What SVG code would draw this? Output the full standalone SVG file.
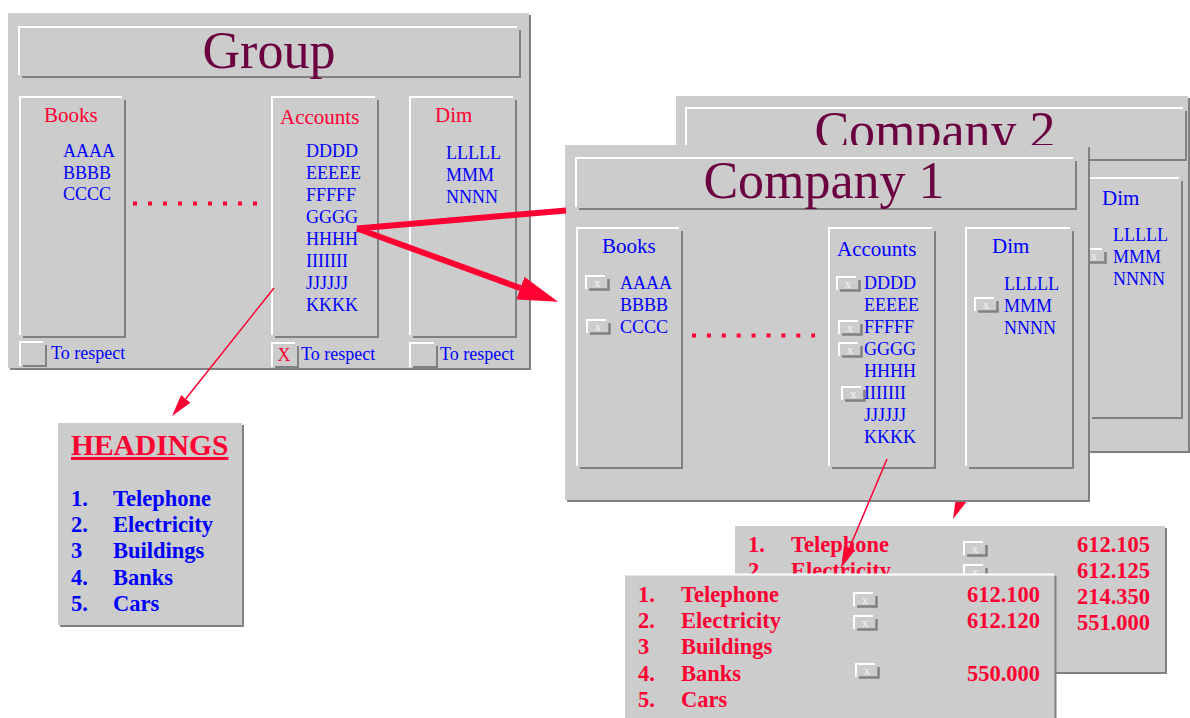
<svg xmlns="http://www.w3.org/2000/svg" xmlns:xlink="http://www.w3.org/1999/xlink" width="1190" height="718" viewBox="0 0 1190 718">
<style>
.bg{fill:#cccccc}
.hl{fill:none;stroke:#ffffff;stroke-width:2}
.sh{fill:none;stroke:#808080;stroke-width:2}
.cbs{fill:none;stroke:#808080;stroke-width:2.5}
.t{font-family:"Liberation Serif","Times New Roman",serif}
.red{fill:#ff0033}
.blue{fill:#0000ff}
.mar{fill:#6b0040}
.title{font-size:52px;text-anchor:middle}
.hd{font-size:21px}
.it{font-size:18px}
.tb{font-size:22.5px;font-weight:bold}
.num{text-anchor:end}
.xm{font-family:"Liberation Serif",serif;font-size:13px;fill:#f2f2f2;text-anchor:middle}
.dots{fill:none;stroke:#ff0033;stroke-width:4}
.thick{fill:none;stroke:#ff0033;stroke-width:6}
.thin{fill:none;stroke:#ff0033;stroke-width:1.5}
</style>
<defs>
<g id="cb">
<path class="hl" d="M1 14V1H20"/>
<path class="cbs" d="M4 14.5H23.5V4"/>
<text x="12" y="12" class="xm">x</text>
</g>
<marker id="bigHead" markerUnits="userSpaceOnUse" markerWidth="40" markerHeight="24" refX="0" refY="12" orient="auto">
<path d="M0 0L40 12L0 24Z" fill="#ff0033"/>
</marker>
<marker id="thinHead" markerUnits="userSpaceOnUse" markerWidth="22" markerHeight="12" refX="0" refY="6" orient="auto">
<path d="M0 0L22 6L0 12Z" fill="#ff0033"/>
</marker>
</defs>

<g id="group">
<rect class="bg" x="8" y="13" width="521" height="355"/>
<path class="sh" d="M10 369H530V15"/>
<path class="hl" d="M19 75V27H517"/><path class="sh" d="M22 77H520V30"/>
<text class="t title mar" x="269" y="68">Group</text>
<g id="group-books">
<path class="hl" d="M20 335V97H122"/><path class="sh" d="M23 337H125V100"/>
<text class="t hd red" x="44" y="122">Books</text>
<text class="t it blue" x="63" y="157">AAAA</text>
<text class="t it blue" x="63" y="179">BBBB</text>
<text class="t it blue" x="63" y="200">CCCC</text>
</g>
<g id="group-accounts">
<path class="hl" d="M272 335V97H375"/><path class="sh" d="M275 337H378V100"/>
<text class="t hd red" x="280" y="124">Accounts</text>
<text class="t it blue" x="306" y="157">DDDD</text>
<text class="t it blue" x="306" y="179">EEEEE</text>
<text class="t it blue" x="306" y="201">FFFFF</text>
<text class="t it blue" x="306" y="223">GGGG</text>
<text class="t it blue" x="306" y="245">HHHH</text>
<text class="t it blue" x="306" y="267">IIIIIII</text>
<text class="t it blue" x="306" y="289">JJJJJJ</text>
<text class="t it blue" x="306" y="311">KKKK</text>
</g>
<g id="group-dim">
<path class="hl" d="M410 335V97H513"/><path class="sh" d="M413 337H516V100"/>
<text class="t hd red" x="435" y="122">Dim</text>
<text class="t it blue" x="446" y="159">LLLLL</text>
<text class="t it blue" x="446" y="181">MMM</text>
<text class="t it blue" x="446" y="203">NNNN</text>
</g>
<g id="group-respect">
<path class="hl" d="M20 366V342H43"/><path class="sh" d="M23 366H46V345"/>
<text class="t it blue" x="51" y="359">To respect</text>
<path class="hl" d="M272 367V343H295"/><path class="sh" d="M275 367H298V346"/>
<text class="t it red" x="284" y="361" text-anchor="middle">X</text>
<text class="t it blue" x="301" y="360">To respect</text>
<path class="hl" d="M410 367V343H434"/><path class="sh" d="M413 367H437V346"/>
<text class="t it blue" x="440" y="360">To respect</text>
</g>
<path class="dots" d="M133 203.5H257" stroke-dasharray="4 11"/>
</g>

<g id="company2">
<rect class="bg" x="676" y="96" width="512" height="355"/>
<path class="sh" d="M678 452H1189V98"/>
<path class="hl" d="M686 158V108H1183"/><path class="sh" d="M689 160H1186V111"/>
<text class="t title mar" x="935" y="148">Company 2</text>
<path class="hl" d="M1089 416V178H1179"/><path class="sh" d="M1092 418H1182V181"/>
<text class="t hd blue" x="1102" y="205">Dim</text>
<text class="t it blue" x="1113" y="241">LLLLL</text>
<text class="t it blue" x="1113" y="263">MMM</text>
<text class="t it blue" x="1113" y="285">NNNN</text>
<use xlink:href="#cb" x="1082" y="248"/>
</g>

<g id="company2-table">
<rect class="bg" x="735" y="526" width="430" height="146"/>
<path class="sh" d="M737 673H1166V528"/>
<text class="t tb red" x="748" y="552">1.</text>
<text class="t tb red" x="791" y="552">Telephone</text>
<text class="t tb red num" x="1150" y="552">612.105</text>
<text class="t tb red" x="748" y="578">2.</text>
<text class="t tb red" x="791" y="578">Electricity</text>
<text class="t tb red num" x="1150" y="578">612.125</text>
<text class="t tb red num" x="1150" y="604">214.350</text>
<text class="t tb red num" x="1150" y="630">551.000</text>
<use xlink:href="#cb" x="963" y="541"/>
<use xlink:href="#cb" x="963" y="564"/>
</g>

<g id="connectors-back">
<path class="thin" d="M1000 408L961.6 498.7" marker-end="url(#thinHead)"/>
</g>

<g id="company1">
<rect class="bg" x="565" y="145" width="523" height="355"/>
<path class="sh" d="M567 501H1089V147"/>
<path class="hl" d="M576 207V158H1073"/><path class="sh" d="M579 209H1076V161"/>
<text class="t title mar" x="824" y="198">Company 1</text>
<g id="c1-books">
<path class="hl" d="M577 466V228H679"/><path class="sh" d="M580 468H682V231"/>
<text class="t hd blue" x="602" y="253">Books</text>
<use xlink:href="#cb" x="585" y="275"/>
<text class="t it blue" x="620" y="289">AAAA</text>
<text class="t it blue" x="620" y="311">BBBB</text>
<use xlink:href="#cb" x="586" y="319"/>
<text class="t it blue" x="620" y="333">CCCC</text>
</g>
<path class="dots" d="M692 335.5H815" stroke-dasharray="4 10.9"/>
<g id="c1-accounts">
<path class="hl" d="M829 466V228H932"/><path class="sh" d="M832 468H935V231"/>
<text class="t hd blue" x="837" y="256">Accounts</text>
<use xlink:href="#cb" x="836" y="276"/>
<text class="t it blue" x="864" y="289">DDDD</text>
<text class="t it blue" x="864" y="311">EEEEE</text>
<use xlink:href="#cb" x="838" y="320"/>
<text class="t it blue" x="864" y="333">FFFFF</text>
<use xlink:href="#cb" x="838" y="342"/>
<text class="t it blue" x="864" y="355">GGGG</text>
<text class="t it blue" x="864" y="377">HHHH</text>
<use xlink:href="#cb" x="841" y="386"/>
<text class="t it blue" x="864" y="399">IIIIIII</text>
<text class="t it blue" x="864" y="421">JJJJJJ</text>
<text class="t it blue" x="864" y="443">KKKK</text>
</g>
<g id="c1-dim">
<path class="hl" d="M966 466V228H1070"/><path class="sh" d="M969 468H1073V231"/>
<text class="t hd blue" x="992" y="253">Dim</text>
<text class="t it blue" x="1004" y="290">LLLLL</text>
<use xlink:href="#cb" x="974" y="297"/>
<text class="t it blue" x="1004" y="312">MMM</text>
<text class="t it blue" x="1004" y="334">NNNN</text>
</g>
</g>

<g id="company1-table">
<rect class="bg" x="625" y="574" width="430" height="144"/>
<path class="hl" d="M625 574.5H1054"/>
<path class="sh" d="M1055.5 576V718"/>
<text class="t tb red" x="638" y="602">1.</text>
<text class="t tb red" x="681" y="602">Telephone</text>
<text class="t tb red num" x="1040" y="602">612.100</text>
<text class="t tb red" x="638" y="628">2.</text>
<text class="t tb red" x="681" y="628">Electricity</text>
<text class="t tb red num" x="1040" y="628">612.120</text>
<text class="t tb red" x="638" y="654">3</text>
<text class="t tb red" x="681" y="654">Buildings</text>
<text class="t tb red" x="638" y="681">4.</text>
<text class="t tb red" x="681" y="681">Banks</text>
<text class="t tb red num" x="1040" y="681">550.000</text>
<text class="t tb red" x="638" y="707">5.</text>
<text class="t tb red" x="681" y="707">Cars</text>
<use xlink:href="#cb" x="853" y="592"/>
<use xlink:href="#cb" x="853" y="615"/>
<use xlink:href="#cb" x="855" y="663"/>
</g>

<g id="headings">
<rect class="bg" x="58" y="423" width="184" height="202"/>
<path class="sh" d="M60 626H243V425"/>
<text class="t red" x="71" y="455" font-size="29.5" font-weight="bold" text-decoration="underline">HEADINGS</text>
<text class="t tb blue" x="71" y="506">1.</text>
<text class="t tb blue" x="113" y="506">Telephone</text>
<text class="t tb blue" x="71" y="532">2.</text>
<text class="t tb blue" x="113" y="532">Electricity</text>
<text class="t tb blue" x="71" y="558">3</text>
<text class="t tb blue" x="113" y="558">Buildings</text>
<text class="t tb blue" x="71" y="585">4.</text>
<text class="t tb blue" x="113" y="585">Banks</text>
<text class="t tb blue" x="71" y="611">5.</text>
<text class="t tb blue" x="113" y="611">Cars</text>
</g>

<g id="connectors">
<path class="thick" d="M357 228.5L566 210.5"/>
<path class="thick" d="M357 228.5L520.4 288.1" marker-end="url(#bigHead)"/>
<path class="thin" d="M274 288L185.8 398.8" marker-end="url(#thinHead)"/>
<path class="thin" d="M887 459L849.6 547.7" marker-end="url(#thinHead)"/>
</g>
</svg>
